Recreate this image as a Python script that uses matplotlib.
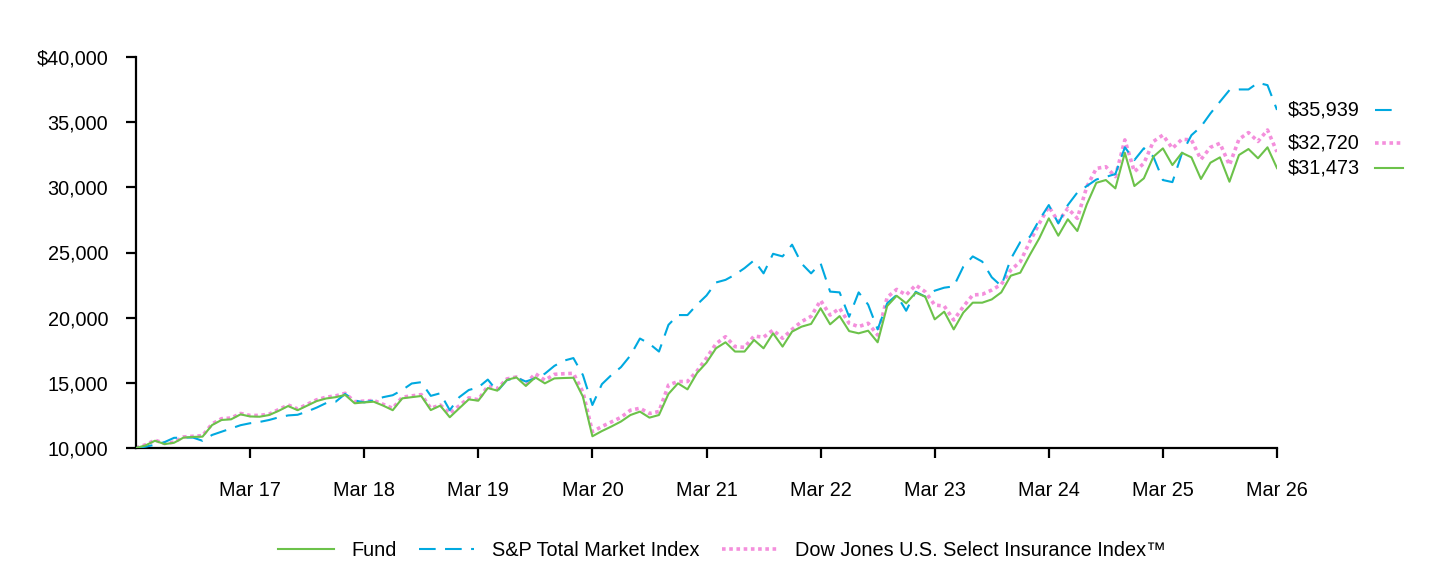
import matplotlib.pyplot as plt
from matplotlib.lines import Line2D

plt.rcParams["font.family"] = ["Liberation Sans", "DejaVu Sans"]

# monthly values, Mar 2016 .. Mar 2026 (121 points)
fund = [
    10000, 10200, 10560, 10300, 10400, 10800, 10850, 10870, 11760, 12150, 12200, 12580,
    12420, 12400, 12530, 12850, 13220, 12900, 13250, 13600, 13800, 13900, 14070, 13430,
    13500, 13550, 13250, 12900, 13810, 13900, 13990, 12910, 13250, 12360, 13050, 13730,
    13630, 14600, 14400, 15220, 15420, 14760, 15420, 14960, 15340, 15370, 15390, 13940,
    10900, 11300, 11650, 12030, 12530, 12790, 12330, 12530, 14150, 14960, 14500, 15750,
    16550, 17650, 18110, 17400, 17400, 18290, 17650, 18800, 17780, 18930, 19310, 19520,
    20720, 19490, 20120, 18970, 18800, 19000, 18110, 20890, 21680, 21100, 21920, 21610,
    19870, 20460, 19100, 20380, 21150, 21150, 21400, 21940, 23220, 23450, 24810, 26090,
    27620, 26290, 27550, 26650, 28700, 30350, 30560, 29920, 32650, 30100, 30690, 32350,
    32990, 31710, 32650, 32300, 30640, 31890, 32300, 30430, 32480, 32940, 32230, 33070,
    31473,
]
sp_total = [
    10000, 10100, 10250, 10450, 10780, 10800, 10800, 10550, 11000, 11250, 11500, 11750,
    11900, 12000, 12150, 12350, 12500, 12550, 12800, 13100, 13450, 13550, 14150, 13650,
    13500, 13650, 13900, 14050, 14450, 14950, 15050, 14000, 14200, 12900, 13900, 14450,
    14650, 15250, 14350, 15200, 15400, 15100, 15350, 15700, 16300, 16700, 16900, 15600,
    13300, 14900, 15600, 16200, 17100, 18400, 18000, 17400, 19450, 20200, 20200, 21000,
    21700, 22700, 22900, 23300, 23800, 24400, 23400, 24900, 24700, 25600, 24150, 23400,
    24170, 22000, 21940, 20070, 21940, 21000, 19100, 21100, 21740, 20530, 21990, 21610,
    22070, 22300, 22400, 23900, 24700, 24300, 23100, 22430, 24500, 25800, 26200, 27500,
    28640, 27230, 28640, 29600, 30100, 30600, 30800, 31020, 33070, 32090, 33000, 32350,
    30560, 30400, 32600, 34000, 34650, 35670, 36570, 37460, 37510, 37510, 38020, 37840,
    35939,
]
dj_insurance = [
    10000, 10250, 10600, 10350, 10450, 10850, 10900, 10950, 11850, 12250, 12300, 12650,
    12500, 12500, 12600, 12950, 13300, 13000, 13350, 13700, 13900, 14000, 14200, 13550,
    13600, 13650, 13350, 13050, 13900, 14000, 14100, 13050, 13300, 12650, 13250, 13850,
    13700, 14750, 14550, 15300, 15450, 14950, 15700, 15200, 15650, 15700, 15730, 14300,
    11250, 11650, 12000, 12350, 12900, 13050, 12650, 12800, 14830, 15100, 15100, 15900,
    16900, 18000, 18540, 17780, 17720, 18590, 18500, 19050, 18420, 19100, 19700, 20100,
    21320, 20200, 20720, 19570, 19310, 19570, 18670, 21560, 22170, 21740, 22500, 21990,
    20970, 20890, 19820, 20840, 21740, 21790, 22120, 22550, 23650, 24290, 25830, 27230,
    28520, 27360, 28390, 27620, 30050, 31450, 31580, 30820, 33640, 31200, 31840, 33520,
    34010, 32990, 33690, 33640, 32140, 33070, 33380, 31710, 33690, 34200, 33520, 34400,
    32720,
]
tick_labels = ["Mar 17", "Mar 18", "Mar 19", "Mar 20", "Mar 21",
               "Mar 22", "Mar 23", "Mar 24", "Mar 25", "Mar 26"]
end_labels = ["$35,939", "$32,720", "$31,473"]
end_label_y = [35939, 33400, 31473]
sample_end = [132.1, 133.0, 133.2]

green = "#6cc24a"
blue = "#00a9e0"
pink = "#f48fdc"

months = list(range(len(fund)))

fig = plt.figure(figsize=(14.4, 5.64), dpi=100)
ax = fig.add_axes([136 / 1440, 1 - 448 / 564, (1277 - 136) / 1440, (448 - 57) / 564])

ax.plot(months, dj_insurance, color=pink, lw=2.6, linestyle=(0, (1, 1)), zorder=2)
ax.plot(months, sp_total, color=blue, lw=1.5, dashes=(8, 4.5), zorder=3)
ax.plot(months, fund, color=green, lw=1.5, zorder=4)

ax.set_xlim(0, 120)
ax.set_ylim(10000, 40000)
ax.set_xticks(range(12, 121, 12))
ax.set_xticklabels(tick_labels)
ax.set_yticks(range(10000, 40001, 5000))
ax.set_yticklabels(["$40,000" if v == 40000 else f"{v:,}" for v in range(10000, 40001, 5000)])

for side in ["top", "right"]:
    ax.spines[side].set_visible(False)
for side in ["left", "bottom"]:
    ax.spines[side].set_linewidth(1.6)
ax.tick_params(axis="both", direction="out", length=7, width=1.6, labelsize=14.3, colors="black")
ax.tick_params(axis="x", pad=17)
ax.tick_params(axis="y", pad=13)

# end value labels with line samples
styles = [dict(color=blue, lw=1.5, dashes=(8, 4.5)),
          dict(color=pink, lw=2.6, linestyle=(0, (1, 1))),
          dict(color=green, lw=1.5)]
for lab, yv, x1, st in zip(end_labels, end_label_y, sample_end, styles):
    ax.text(128.7, yv, lab, fontsize=14.3, va="center", ha="right", clip_on=False)
    ax.plot([130.3, x1], [yv, yv], clip_on=False, **st)

handles = [Line2D([], [], **styles[2]), Line2D([], [], **styles[0]), Line2D([], [], **styles[1])]
fig.legend(handles, ["Fund", "S&P Total Market Index", "Dow Jones U.S. Select Insurance Index\u2122"],
           loc="center", bbox_to_anchor=(722 / 1440, 1 - 550 / 564), ncol=3, frameon=False,
           fontsize=14.3, handlelength=2.8, columnspacing=1.1, handletextpad=0.9)

fig.savefig("out.png", dpi=100)
